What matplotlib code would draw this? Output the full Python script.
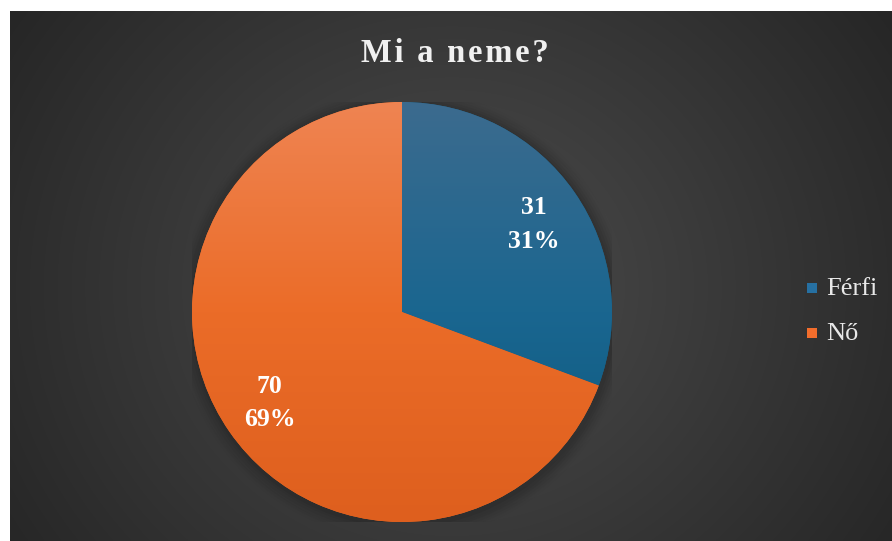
import numpy as np
import matplotlib
matplotlib.use("Agg")
import matplotlib.pyplot as plt
from matplotlib.colors import LinearSegmentedColormap
from matplotlib.patches import Rectangle

categories = ["Férfi", "Nő"]
counts = [31, 70]
percent_labels = ["31%", "69%"]
title = "Mi a neme?"

W, H = 892, 541
fig = plt.figure(figsize=(W / 100, H / 100), dpi=100)
fig.patch.set_facecolor("white")

# background panel with radial gradient
bg = fig.add_axes([10 / W, 0, (W - 10) / W, (H - 11) / H])
bg.set_axis_off()
ny, nx = 265, 441
yy, xx = np.mgrid[0:ny, 0:nx]
cx, cy = nx * 0.5, ny * 0.52
d = np.sqrt(((xx - cx) / (nx * 0.62)) ** 2 + ((yy - cy) / (ny * 0.95)) ** 2)
d = np.clip(d, 0, 1)
val = 0.30 - 0.155 * d
img = np.dstack([val, val, val])
bg.imshow(img, extent=[0, 1, 0, 1], aspect="auto", interpolation="bilinear")
bg.set_xlim(0, 1); bg.set_ylim(0, 1)

# pie axes
R = 210
pcx, pcy = 402, 312
ax = fig.add_axes([(pcx - R) / W, (H - pcy - R) / H, 2 * R / W, 2 * R / H])
ax.set_axis_off()
ax.set_xlim(-1, 1); ax.set_ylim(-1, 1)

# soft shadow
for i, a in enumerate(np.linspace(0.05, 0.01, 6)):
    c = plt.Circle((0.005, -0.012), 1.0 + 0.012 * (i + 1), color="black", alpha=a, lw=0, zorder=0)
    ax.add_patch(c)

wedges, _ = ax.pie(counts, startangle=90, counterclock=False, radius=1.0,
                   colors=["#1a6288", "#eb6c28"], wedgeprops=dict(linewidth=0))

grads = [
    LinearSegmentedColormap.from_list("b", ["#0a587c", "#1a6690", "#3c6b8e"]),
    LinearSegmentedColormap.from_list("o", ["#de5f1e", "#eb6c28", "#ef8452"]),
]
grad = np.linspace(0, 1, 256).reshape(-1, 1)
for w, cm in zip(wedges, grads):
    im = ax.imshow(grad, extent=[-1, 1, -1, 1], origin="lower", cmap=cm,
                   aspect="auto", interpolation="bilinear", zorder=2)
    im.set_clip_path(w)
ax.set_xlim(-1, 1); ax.set_ylim(-1, 1)

# data labels: two lines, baselines placed around the label centre
dist = 0.76
px = 1.0 / R
for w, n, p in zip(wedges, counts, percent_labels):
    th = np.deg2rad((w.theta1 + w.theta2) / 2 - 0.7)
    x0, y0 = dist * np.cos(th), dist * np.sin(th)
    for s, off in ((str(n), 8.5), (p, -25)):
        ax.text(x0, y0 + off * px, s, ha="center", va="baseline",
                color="white", fontsize=18.5, fontweight="bold",
                family="Liberation Serif", zorder=5)

# title (letter-spaced)
spaced = "\u200a".join(title)
fig.text(455 / W, 1 - 62 / H, spaced, ha="center", va="baseline",
         fontsize=23.5, fontweight="bold", family=["Liberation Serif", "DejaVu Serif"],
         color="#f0f0f0")

# legend (manual, for exact placement)
leg_colors = ["#2670a2", "#f26d2c"]
leg_base = [295, 340]
for lab, col, yb in zip(categories, leg_colors, leg_base):
    fig.patches.append(Rectangle((807 / W, 1 - (yb - 2) / H), 10 / W, 10 / H,
                                 transform=fig.transFigure, color=col, lw=0))
    fig.text(826 / W, 1 - yb / H, lab, ha="left", va="baseline", fontsize=19,
             family="Liberation Serif", color="#e8e8e8")

fig.savefig("out.png", dpi=100)
